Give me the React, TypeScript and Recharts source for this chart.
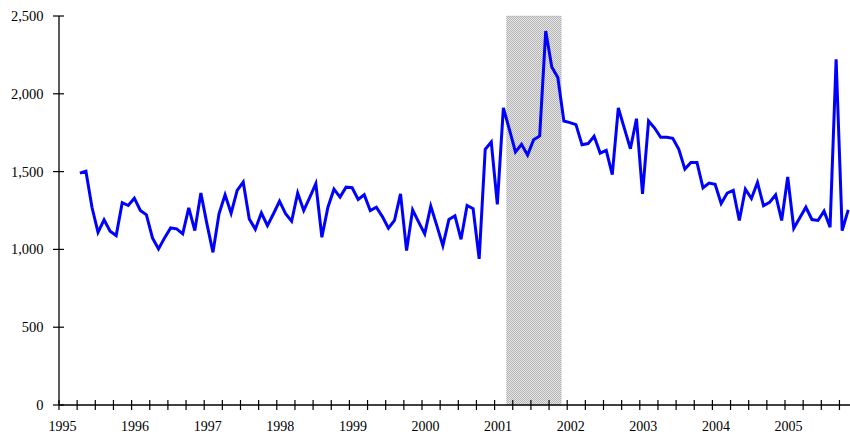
import { LineChart, Line, XAxis, YAxis, ReferenceArea } from 'recharts'

// monthly values, first one is April 1995 (months counted from Jan 1995)
const firstMonth = 3
const values = [
  1490, 1503, 1271, 1110, 1190, 1117, 1089, 1300, 1282,
  1329, 1250, 1222, 1074, 1003, 1074, 1138, 1132, 1100, 1267, 1121, 1362,
  1164, 981, 1229, 1351, 1233, 1379, 1433, 1196, 1130, 1235, 1153, 1229,
  1310, 1229, 1181, 1362, 1250, 1335, 1422, 1078, 1271, 1387, 1336, 1400,
  1396, 1321, 1351, 1250, 1271, 1211, 1136, 1186, 1357, 992, 1254, 1175,
  1100, 1278, 1153, 1024, 1192, 1216, 1065, 1282, 1261, 939, 1643, 1690,
  1289, 1909, 1770, 1626, 1675, 1607, 1705, 1729, 2403, 2173, 2105, 1825,
  1815, 1802, 1672, 1680, 1727, 1619, 1637, 1480, 1909, 1778, 1647, 1840,
  1357, 1825, 1780, 1720, 1720, 1714, 1643, 1516, 1559, 1559, 1396, 1426,
  1418, 1295, 1362, 1379, 1186, 1387, 1327, 1430, 1280, 1302, 1351, 1186,
  1465, 1136, 1203, 1271, 1192, 1186, 1246, 1143, 2221, 1121, 1254,
]
const years = ['1995', '1996', '1997', '1998', '1999', '2000', '2001', '2002', '2003', '2004', '2005']
const yTicks = [0, 500, 1000, 1500, 2000, 2500]
// recession Mar 2001 - Nov 2001
const recessionStart = 74
const recessionEnd = 83

const quarterTicks = Array.from({ length: 44 }, (_, i) => i * 3)
const data = values.map((v, i) => ({ t: firstMonth + i + 0.45, v }))

const font = '"Liberation Serif", "Times New Roman", serif'

function XTick({ x, y, payload }: any) {
  const m = payload.value
  const label = m % 12 === 0 ? years[m / 12] : undefined
  return (
    <g>
      <line x1={x} x2={x} y1={y - 5} y2={y + 5} stroke="#000" strokeWidth={1.2} />
      {label && (
        <text x={x + 3.5} y={y + 26} textAnchor="middle" fontSize={14} fontFamily={font} fill="#000">
          {label}
        </text>
      )}
    </g>
  )
}

function YTick({ x, y, payload }: any) {
  return (
    <g>
      <line x1={x - 6} x2={x + 5} y1={y} y2={y} stroke="#000" strokeWidth={1.2} />
      <text x={x - 15.5} y={y} dy="0.35em" textAnchor="end" fontSize={14.5} fontFamily={font} fill="#000">
        {payload.value.toLocaleString('en-US')}
      </text>
    </g>
  )
}

export default function App() {
  return (
    <div style={{ position: 'fixed', left: 0, top: 0, width: 850, height: 434, overflow: 'hidden', background: '#fff' }}>
      <LineChart width={880} height={434} data={data} margin={{ top: 16, right: 22.4, bottom: 0, left: 0 }}>
        <defs>
          <pattern id="checker" width="2" height="2" patternUnits="userSpaceOnUse">
            <rect width="2" height="2" fill="#e6e6e6" />
            <rect width="1" height="1" fill="#b4b4b4" />
            <rect x="1" y="1" width="1" height="1" fill="#b4b4b4" />
          </pattern>
        </defs>
        <XAxis
          dataKey="t"
          type="number"
          domain={[0, 132]}
          ticks={quarterTicks}
          interval={0}
          height={29}
          tickSize={0}
          tickMargin={0}
          tickLine={false}
          tick={<XTick />}
          axisLine={{ stroke: '#000', strokeWidth: 1.3 }}
        />
        <YAxis
          domain={[0, 2500]}
          ticks={yTicks}
          width={59}
          tickSize={0}
          tickMargin={0}
          tickLine={false}
          tick={<YTick />}
          axisLine={{ stroke: '#000', strokeWidth: 1.3 }}
        />
        <ReferenceArea
          x1={recessionStart}
          x2={recessionEnd}
          y1={0}
          y2={2500}
          fill="url(#checker)"
          fillOpacity={1}
          stroke="#999"
          strokeWidth={0.6}
          strokeDasharray="1 1"
        />
        <Line
          type="linear"
          dataKey="v"
          stroke="#0000ff"
          strokeWidth={3}
          dot={false}
          isAnimationActive={false}
        />
      </LineChart>
    </div>
  )
}
